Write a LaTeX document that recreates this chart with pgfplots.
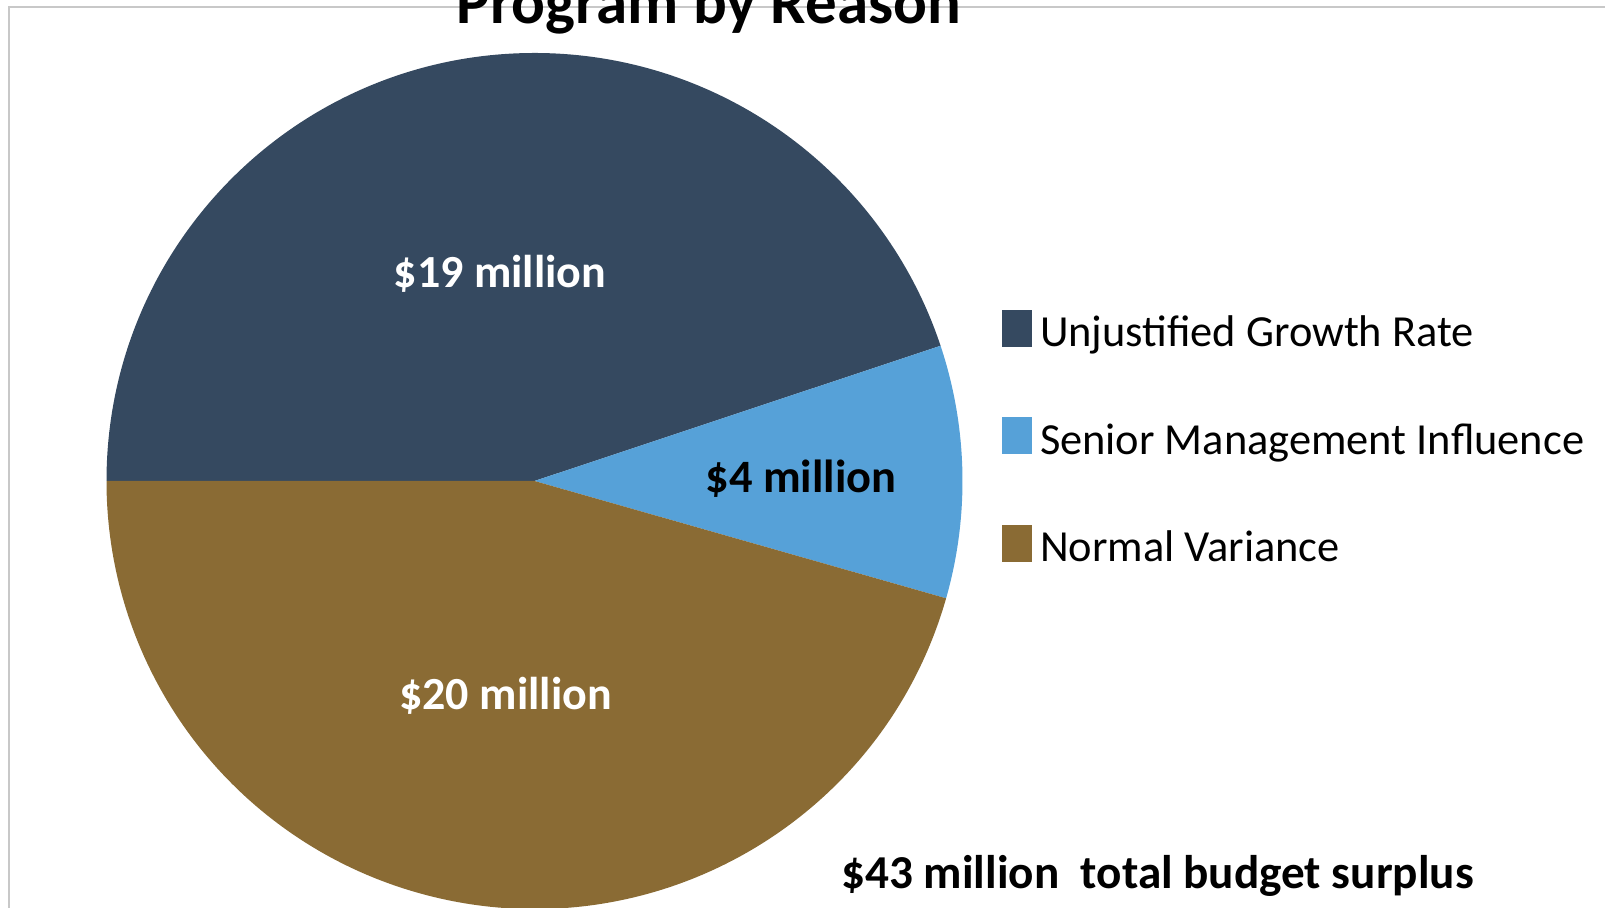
\documentclass[border=0pt]{standalone}
\usepackage{fontspec}
\setmainfont{Carlito}
\usepackage{pgfplots}
\pgfplotsset{compat=1.18}
\definecolor{cdark}{HTML}{354960}
\definecolor{clight}{HTML}{56A1D8}
\definecolor{cbrown}{HTML}{8A6B34}
\definecolor{cframe}{HTML}{C8C8C8}
% slice values ($ million)
\def\vA{19.3}\def\vB{4.1}\def\vC{19.6}
\pgfmathsetmacro\tot{\vA+\vB+\vC}
\pgfmathsetmacro\aA{180}
\pgfmathsetmacro\aB{\aA-360*\vA/\tot}
\pgfmathsetmacro\aC{\aB-360*\vB/\tot}
\pgfmathsetmacro\aD{\aC-360*\vC/\tot}
\def\cx{534.5}\def\cy{427}\def\R{428}
\pgfmathsetmacro\xA{\cx+\R*cos(\aA)}\pgfmathsetmacro\yA{\cy+\R*sin(\aA)}
\pgfmathsetmacro\xB{\cx+\R*cos(\aB)}\pgfmathsetmacro\yB{\cy+\R*sin(\aB)}
\pgfmathsetmacro\xC{\cx+\R*cos(\aC)}\pgfmathsetmacro\yC{\cy+\R*sin(\aC)}
\begin{document}
\begin{tikzpicture}
\begin{axis}[
  x=0.5pt, y=0.5pt, xmin=0, xmax=1605, ymin=0, ymax=908,
  hide axis, clip=false,
  title={Program by Reason},
  title style={at={(axis description cs:0.4417,0.9609)}, anchor=base, inner sep=0pt,
    font=\bfseries\fontsize{31.5}{36}\selectfont},
  legend style={at={(axis cs:1002,598)}, anchor=north west, draw=none, fill=none,
    inner sep=0pt, outer sep=0pt, row sep=30.2pt, column sep=4pt,
    font=\fontsize{22.2}{26}\selectfont,
    nodes={inner sep=0pt, text height=16pt, text depth=5pt}},
  legend cell align=left,
  legend image code/.code={\path (0pt,-2pt) rectangle (15pt,13pt);
     \fill[#1, overlay] (0pt,-5.5pt) rectangle (15pt,9.5pt);},
]
\draw[cframe, line width=1pt] (axis cs:8.5,0) -- (axis cs:8.5,900.5) -- (axis cs:1605,900.5);
\addplot[fill=cdark, draw=none] coordinates {(\cx,\cy) (\xA,\yA)}
   arc[start angle=\aA, end angle=\aB, radius=214pt] -- cycle;
\addlegendentry{Unjustified Growth Rate}
\addplot[fill=clight, draw=none] coordinates {(\cx,\cy) (\xB,\yB)}
   arc[start angle=\aB, end angle=\aC, radius=214pt] -- cycle;
\addlegendentry{Senior Management Influence}
\addplot[fill=cbrown, draw=none] coordinates {(\cx,\cy) (\xC,\yC)}
   arc[start angle=\aC, end angle=\aD, radius=214pt] -- cycle;
\addlegendentry{Normal Variance}
\node[anchor=base, inner sep=0pt, text=white, font=\bfseries\fontsize{23}{27}\selectfont] at (axis cs:500,620) {\$19 million};
\node[anchor=base, inner sep=0pt, text=black, font=\bfseries\fontsize{23.2}{27}\selectfont] at (axis cs:801,415) {\$4 million};
\node[anchor=base, inner sep=0pt, text=white, font=\bfseries\fontsize{23}{27}\selectfont] at (axis cs:505.5,198) {\$20 million};
\node[anchor=base west, inner sep=0pt, text=black, font=\bfseries\fontsize{23.6}{27}\selectfont] at (axis cs:841,19) {\$43 million\ \ total budget surplus};
\end{axis}
\pgfresetboundingbox
\path[use as bounding box] (current axis.south west) rectangle (current axis.north east);
\end{tikzpicture}
\end{document}
